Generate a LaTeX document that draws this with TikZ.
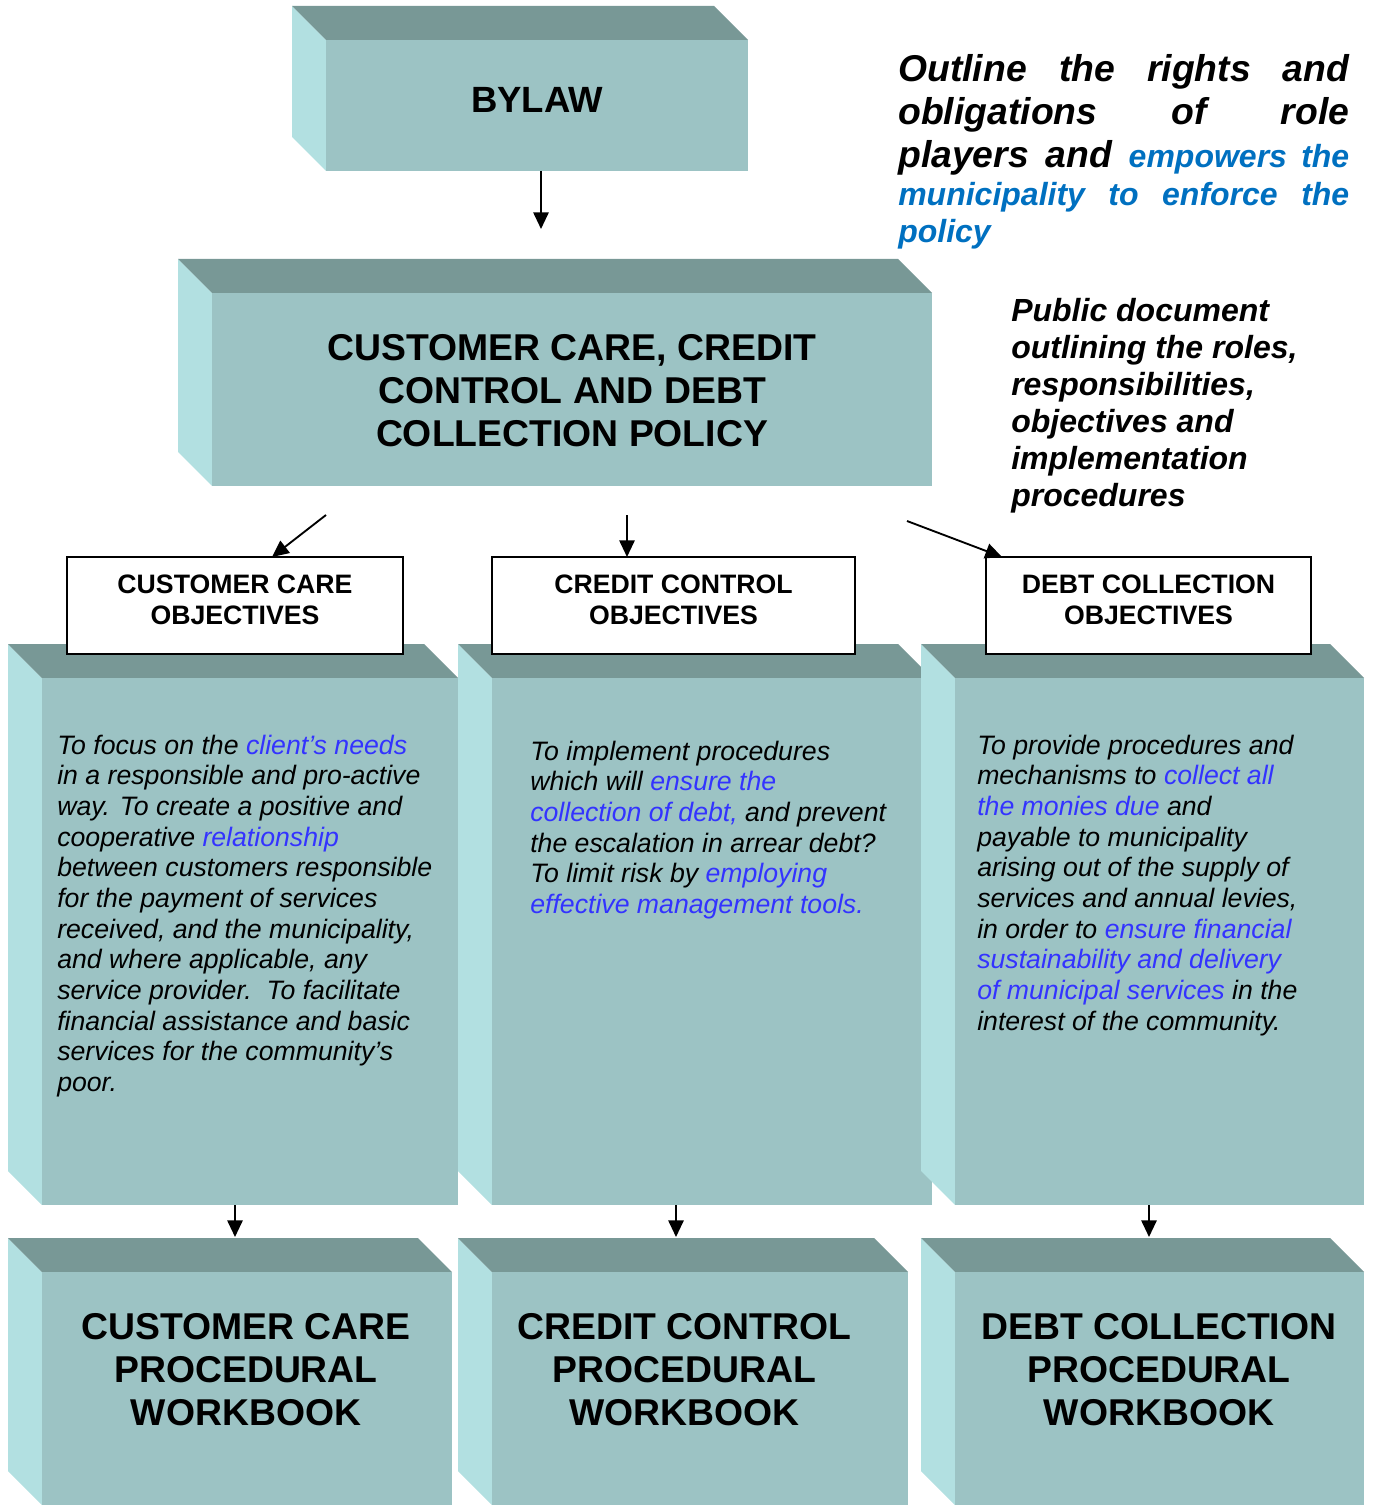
\documentclass[tikz,border=0pt]{standalone}
\usepackage{fontspec}
\setmainfont{Liberation Sans}
\usetikzlibrary{arrows.meta}
\definecolor{topc}{HTML}{789896}
\definecolor{frontc}{HTML}{9CC3C4}
\definecolor{leftc}{HTML}{B2E0E1}
\definecolor{bodyblue}{HTML}{3333FF}
\definecolor{topblue}{HTML}{0070C0}
\newcommand\blu[1]{\textcolor{bodyblue}{#1}}
\newcommand\tblu[1]{\textcolor{topblue}{#1}}
% bevel box: name, x0, y0, x1, y1 (pixel units), depth 34
\newcommand\bevelbox[5]{%
  \coordinate (#1-nw) at (#2+34,#3+34);
  \coordinate (#1-se) at (#4,#5);
  \fill[leftc] (#2,#3) -- (#2+34,#3+34) -- (#2+34,#5) -- (#2,#5-34) -- cycle;
  \fill[topc] (#2,#3) -- (#4-34,#3) -- (#4,#3+34) -- (#2+34,#3+34) -- cycle;
  \fill[frontc] (#1-nw) rectangle (#1-se);
}
\tikzset{
  title/.style={font=\bfseries\fontsize{28}{32.5}\selectfont, align=center, inner sep=0pt, anchor=north},
  objbox/.style={draw=black, line width=1.5pt, fill=white, inner sep=0pt},
  objtext/.style={font=\bfseries\fontsize{20}{23.25}\selectfont, align=center, inner sep=0pt, anchor=north},
  body/.style={font=\itshape\fontsize{20}{23}\selectfont, align=left, inner sep=0pt, anchor=north west},
  sideA/.style={font=\bfseries\itshape\fontsize{28}{32}\selectfont, inner sep=0pt, anchor=base west},
  sideB/.style={font=\bfseries\itshape\fontsize{24}{28}\selectfont, inner sep=0pt, anchor=base west},
  pub/.style={font=\bfseries\itshape\fontsize{24}{27.75}\selectfont, align=left, inner sep=0pt, anchor=north west},
  arr/.style={line width=1.4pt, -{Triangle[length=12.5pt,width=11.5pt]}}
}
\begin{document}
\begin{tikzpicture}[x=0.75pt,y=-0.75pt]
\useasboundingbox (0,0) rectangle (1375,1508);

% ---- bevel boxes ----
\bevelbox{by}{292}{6}{748}{171}
\bevelbox{pol}{178}{259}{932}{486}
\bevelbox{ccb}{8}{644}{458}{1205}
\bevelbox{crb}{458}{644}{932}{1205}
\bevelbox{dcb}{921}{644}{1364}{1205}
\bevelbox{ccw}{8}{1238}{452}{1505}
\bevelbox{crw}{458}{1238}{908}{1505}
\bevelbox{dcw}{921}{1238}{1364}{1505}

% ---- titles ----
\node[font=\bfseries\fontsize{27.4}{32}\selectfont, inner sep=0pt, anchor=base] (bylaw) at (537,113) {BYLAW};
\node[title] (poltxt) at (572,332) {\rule{0pt}{21pt}CUSTOMER CARE, CREDIT\\CONTROL AND DEBT\\COLLECTION POLICY};
\node[title] (ccwtxt) at (246,1311) {\rule{0pt}{21pt}CUSTOMER CARE\\PROCEDURAL\\WORKBOOK};
\node[title] (crwtxt) at (684.5,1311) {\rule{0pt}{21pt}CREDIT CONTROL\\PROCEDURAL\\WORKBOOK};
\node[title] (dcwtxt) at (1159,1311) {\rule{0pt}{21pt}DEBT COLLECTION\\PROCEDURAL\\WORKBOOK};

% ---- objective boxes ----
\node[objbox, minimum width=252pt, minimum height=72.75pt] (cco) at (235,605.5) {};
\node[objbox, minimum width=272.25pt, minimum height=72.75pt] (cro) at (673.5,605.5) {};
\node[objbox, minimum width=243.75pt, minimum height=72.75pt] (dco) at (1148.5,605.5) {};
\node[objtext] (ccotxt) at (235,573) {\rule{0pt}{15pt}CUSTOMER CARE\\OBJECTIVES};
\node[objtext] (crotxt) at (673.5,573) {\rule{0pt}{15pt}CREDIT CONTROL\\OBJECTIVES};
\node[objtext] (dcotxt) at (1148.5,573) {\rule{0pt}{15pt}DEBT COLLECTION\\OBJECTIVES};

% ---- body texts ----
\node[body] (cctxt) at (57,734) {\rule{0pt}{15pt}To focus on the \blu{client’s needs}\\
in a responsible and pro-active\\
way. To create a positive and\\
cooperative \blu{relationship}\\
between customers responsible\\
for the payment of services\\
received, and the municipality,\\
and where applicable, any\\
service provider.\ \ To facilitate\\
financial assistance and basic\\
services for the community’s\\
poor.};
\node[body] (crtxt) at (530,740) {\rule{0pt}{15pt}To implement procedures\\
which will \blu{ensure the}\\
\blu{collection of debt,} and prevent\\
the escalation in arrear debt?\\
To limit risk by \blu{employing}\\
\blu{effective management tools.}};
\node[body] (dctxt) at (977,734) {\rule{0pt}{15pt}To provide procedures and\\
mechanisms to \blu{collect all}\\
\blu{the monies due} and\\
payable to municipality\\
arising out of the supply of\\
services and annual levies,\\
in order to \blu{ensure financial}\\
\blu{sustainability and delivery}\\
\blu{of municipal services} in the\\
interest of the community.};

% ---- side texts ----
\node[sideA] (s1) at (898,82) {\makebox[338.25pt][s]{Outline the rights and}};
\node[sideA] (s2) at (898,125) {\makebox[338.25pt][s]{obligations of role}};
\node[sideA] (s3) at (898,168) {\makebox[338.25pt][s]{players and \tblu{\fontsize{24}{28}\selectfont empowers the}}};
\node[sideB] (s4) at (898,206) {\makebox[338.25pt][s]{\tblu{municipality to enforce the}}};
\node[sideB] (s5) at (898,243) {\tblu{policy}};
\node[pub] (pubtxt) at (1011,298) {\rule{0pt}{17pt}Public document\\outlining the roles,\\responsibilities,\\objectives and\\implementation\\procedures};

% ---- connectors ----
\coordinate (a0) at (541,171);
\coordinate (a0e) at (541,229);
\coordinate (a1) at (326,515);
\coordinate (a1e) at (272,557);
\coordinate (a2) at (627,515);
\coordinate (a2e) at (627,557);
\coordinate (a3) at (907,521);
\coordinate (a3e) at (1002,557);
\coordinate (b1) at (235,1205);
\coordinate (b1e) at (235,1237);
\coordinate (b2) at (676,1205);
\coordinate (b2e) at (676,1237);
\coordinate (b3) at (1149,1205);
\coordinate (b3e) at (1149,1237);
\draw[arr] (a0) -- (a0e);
\draw[arr] (a1) -- (a1e);
\draw[arr] (a2) -- (a2e);
\draw[arr] (a3) -- (a3e);
\draw[arr] (b1) -- (b1e);
\draw[arr] (b2) -- (b2e);
\draw[arr] (b3) -- (b3e);
\end{tikzpicture}
\end{document}
